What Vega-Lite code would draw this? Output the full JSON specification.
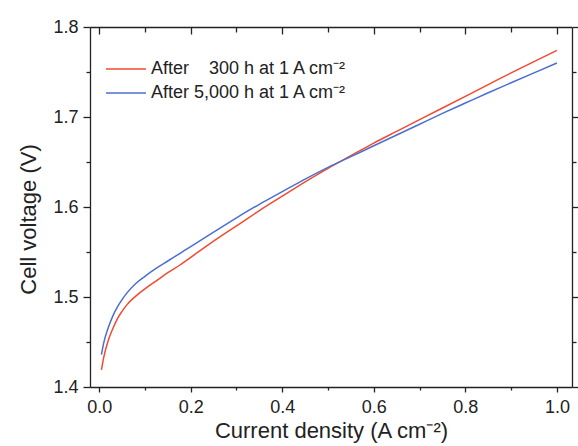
{
  "$schema": "https://vega.github.io/schema/vega-lite/v6.json",
  "width": 482,
  "height": 360,
  "autosize": "none",
  "padding": {"left": 90, "top": 27, "right": 6, "bottom": 59},
  "background": "white",
  "config": {
    "font": "Liberation Sans",
    "view": {"stroke": null},
    "axis": {"grid": false, "domainColor": "#222", "domainWidth": 1.3, "tickColor": "#222", "tickWidth": 1.3, "labelColor": "#222", "titleColor": "#222", "labelFont": "Liberation Sans", "titleFont": "Liberation Sans", "labelFontSize": 18, "titleFontSize": 22, "titleFontWeight": "normal"}
  },
  "datasets": {
    "curves": [
      {"series": "After\u00a0\u00a0\u00a0\u00a0300 h at 1 A cm⁻²", "j": 0.005, "v": 1.419},
      {"series": "After\u00a0\u00a0\u00a0\u00a0300 h at 1 A cm⁻²", "j": 0.01, "v": 1.433},
      {"series": "After\u00a0\u00a0\u00a0\u00a0300 h at 1 A cm⁻²", "j": 0.02, "v": 1.452},
      {"series": "After\u00a0\u00a0\u00a0\u00a0300 h at 1 A cm⁻²", "j": 0.03, "v": 1.465},
      {"series": "After\u00a0\u00a0\u00a0\u00a0300 h at 1 A cm⁻²", "j": 0.04, "v": 1.476},
      {"series": "After\u00a0\u00a0\u00a0\u00a0300 h at 1 A cm⁻²", "j": 0.05, "v": 1.484},
      {"series": "After\u00a0\u00a0\u00a0\u00a0300 h at 1 A cm⁻²", "j": 0.06, "v": 1.491},
      {"series": "After\u00a0\u00a0\u00a0\u00a0300 h at 1 A cm⁻²", "j": 0.08, "v": 1.501},
      {"series": "After\u00a0\u00a0\u00a0\u00a0300 h at 1 A cm⁻²", "j": 0.10, "v": 1.509},
      {"series": "After\u00a0\u00a0\u00a0\u00a0300 h at 1 A cm⁻²", "j": 0.125, "v": 1.518},
      {"series": "After\u00a0\u00a0\u00a0\u00a0300 h at 1 A cm⁻²", "j": 0.15, "v": 1.527},
      {"series": "After\u00a0\u00a0\u00a0\u00a0300 h at 1 A cm⁻²", "j": 0.175, "v": 1.535},
      {"series": "After\u00a0\u00a0\u00a0\u00a0300 h at 1 A cm⁻²", "j": 0.2, "v": 1.544},
      {"series": "After\u00a0\u00a0\u00a0\u00a0300 h at 1 A cm⁻²", "j": 0.25, "v": 1.562},
      {"series": "After\u00a0\u00a0\u00a0\u00a0300 h at 1 A cm⁻²", "j": 0.3, "v": 1.579},
      {"series": "After\u00a0\u00a0\u00a0\u00a0300 h at 1 A cm⁻²", "j": 0.35, "v": 1.596},
      {"series": "After\u00a0\u00a0\u00a0\u00a0300 h at 1 A cm⁻²", "j": 0.4, "v": 1.612},
      {"series": "After\u00a0\u00a0\u00a0\u00a0300 h at 1 A cm⁻²", "j": 0.45, "v": 1.628},
      {"series": "After\u00a0\u00a0\u00a0\u00a0300 h at 1 A cm⁻²", "j": 0.5, "v": 1.643},
      {"series": "After\u00a0\u00a0\u00a0\u00a0300 h at 1 A cm⁻²", "j": 0.55, "v": 1.657},
      {"series": "After\u00a0\u00a0\u00a0\u00a0300 h at 1 A cm⁻²", "j": 0.6, "v": 1.671},
      {"series": "After\u00a0\u00a0\u00a0\u00a0300 h at 1 A cm⁻²", "j": 0.65, "v": 1.684},
      {"series": "After\u00a0\u00a0\u00a0\u00a0300 h at 1 A cm⁻²", "j": 0.7, "v": 1.697},
      {"series": "After\u00a0\u00a0\u00a0\u00a0300 h at 1 A cm⁻²", "j": 0.75, "v": 1.710},
      {"series": "After\u00a0\u00a0\u00a0\u00a0300 h at 1 A cm⁻²", "j": 0.8, "v": 1.723},
      {"series": "After\u00a0\u00a0\u00a0\u00a0300 h at 1 A cm⁻²", "j": 0.85, "v": 1.736},
      {"series": "After\u00a0\u00a0\u00a0\u00a0300 h at 1 A cm⁻²", "j": 0.9, "v": 1.749},
      {"series": "After\u00a0\u00a0\u00a0\u00a0300 h at 1 A cm⁻²", "j": 0.95, "v": 1.7615},
      {"series": "After\u00a0\u00a0\u00a0\u00a0300 h at 1 A cm⁻²", "j": 1.0, "v": 1.774},
      {"series": "After 5,000 h at 1 A cm⁻²", "j": 0.005, "v": 1.436},
      {"series": "After 5,000 h at 1 A cm⁻²", "j": 0.01, "v": 1.449},
      {"series": "After 5,000 h at 1 A cm⁻²", "j": 0.02, "v": 1.466},
      {"series": "After 5,000 h at 1 A cm⁻²", "j": 0.03, "v": 1.479},
      {"series": "After 5,000 h at 1 A cm⁻²", "j": 0.04, "v": 1.489},
      {"series": "After 5,000 h at 1 A cm⁻²", "j": 0.05, "v": 1.497},
      {"series": "After 5,000 h at 1 A cm⁻²", "j": 0.06, "v": 1.504},
      {"series": "After 5,000 h at 1 A cm⁻²", "j": 0.08, "v": 1.515},
      {"series": "After 5,000 h at 1 A cm⁻²", "j": 0.10, "v": 1.523},
      {"series": "After 5,000 h at 1 A cm⁻²", "j": 0.125, "v": 1.532},
      {"series": "After 5,000 h at 1 A cm⁻²", "j": 0.15, "v": 1.540},
      {"series": "After 5,000 h at 1 A cm⁻²", "j": 0.175, "v": 1.548},
      {"series": "After 5,000 h at 1 A cm⁻²", "j": 0.2, "v": 1.556},
      {"series": "After 5,000 h at 1 A cm⁻²", "j": 0.25, "v": 1.572},
      {"series": "After 5,000 h at 1 A cm⁻²", "j": 0.3, "v": 1.588},
      {"series": "After 5,000 h at 1 A cm⁻²", "j": 0.35, "v": 1.603},
      {"series": "After 5,000 h at 1 A cm⁻²", "j": 0.4, "v": 1.617},
      {"series": "After 5,000 h at 1 A cm⁻²", "j": 0.45, "v": 1.631},
      {"series": "After 5,000 h at 1 A cm⁻²", "j": 0.5, "v": 1.644},
      {"series": "After 5,000 h at 1 A cm⁻²", "j": 0.55, "v": 1.656},
      {"series": "After 5,000 h at 1 A cm⁻²", "j": 0.6, "v": 1.668},
      {"series": "After 5,000 h at 1 A cm⁻²", "j": 0.65, "v": 1.680},
      {"series": "After 5,000 h at 1 A cm⁻²", "j": 0.7, "v": 1.692},
      {"series": "After 5,000 h at 1 A cm⁻²", "j": 0.75, "v": 1.704},
      {"series": "After 5,000 h at 1 A cm⁻²", "j": 0.8, "v": 1.7155},
      {"series": "After 5,000 h at 1 A cm⁻²", "j": 0.85, "v": 1.727},
      {"series": "After 5,000 h at 1 A cm⁻²", "j": 0.9, "v": 1.738},
      {"series": "After 5,000 h at 1 A cm⁻²", "j": 0.95, "v": 1.749},
      {"series": "After 5,000 h at 1 A cm⁻²", "j": 1.0, "v": 1.760}
    ]
  },
  "data": {"name": "curves"},
  "layer": [
    {
      "mark": {"type": "line", "strokeWidth": 1.5, "clip": true, "interpolate": "monotone"},
      "encoding": {
        "x": {
          "field": "j", "type": "quantitative",
          "scale": {"domain": [-0.02, 1.033], "nice": false, "zero": false},
          "axis": {
            "orient": "bottom",
            "title": "Current density (A cm⁻²)",
            "values": [0, 0.1, 0.2, 0.3, 0.4, 0.5, 0.6, 0.7, 0.8, 0.9, 1.0],
            "labelExpr": "round(datum.value*10) % 2 === 0 ? format(datum.value, '.1f') : ''",
            "tickSize": {"condition": {"test": "round(datum.value*10) % 2 === 0", "value": 5}, "value": 3},
            "labelPadding": 6,
            "titlePadding": 4,
            "labelFlush": false,
            "labelOverlap": false
          }
        },
        "y": {
          "field": "v", "type": "quantitative",
          "scale": {"domain": [1.4, 1.8], "nice": false, "zero": false},
          "axis": {
            "orient": "left",
            "title": "Cell voltage (V)",
            "values": [1.4, 1.45, 1.5, 1.55, 1.6, 1.65, 1.7, 1.75, 1.8],
            "labelExpr": "round(datum.value*20) % 2 === 0 ? format(datum.value, '.1f') : ''",
            "tickSize": {"condition": {"test": "round(datum.value*20) % 2 === 0", "value": 7}, "value": 4},
            "labelPadding": 5,
            "titlePadding": 12,
            "titleY": 192,
            "labelFlush": false,
            "labelOverlap": false
          }
        },
        "color": {
          "field": "series", "type": "nominal",
          "scale": {"domain": ["After\u00a0\u00a0\u00a0\u00a0300 h at 1 A cm⁻²", "After 5,000 h at 1 A cm⁻²"], "range": ["#f24a30", "#4a6fd2"]},
          "legend": {
            "title": null,
            "orient": "none",
            "legendX": 15,
            "legendY": 30,
            "padding": 0,
            "symbolType": "stroke",
            "symbolSize": 1600,
            "symbolStrokeWidth": 1.5,
            "clipHeight": 24,
            "labelFontSize": 18,
            "labelFont": "Liberation Sans",
            "labelColor": "#222",
            "labelOffset": 4,
            "labelLimit": 400,
            "rowPadding": 0
          }
        }
      }
    },
    {
      "mark": {"type": "line", "strokeOpacity": 0},
      "encoding": {
        "detail": {"field": "series", "type": "nominal"},
        "x": {
          "field": "j", "type": "quantitative",
          "axis": {
            "orient": "top",
            "title": null,
            "labels": false,
            "values": [0, 0.1, 0.2, 0.3, 0.4, 0.5, 0.6, 0.7, 0.8, 0.9, 1.0],
            "tickSize": {"condition": {"test": "round(datum.value*10) % 2 === 0", "value": -7}, "value": -5}
          }
        },
        "y": {
          "field": "v", "type": "quantitative",
          "axis": {
            "orient": "right",
            "title": null,
            "labels": false,
            "values": [1.4, 1.45, 1.5, 1.55, 1.6, 1.65, 1.7, 1.75, 1.8],
            "tickSize": {"condition": {"test": "round(datum.value*20) % 2 === 0", "value": 7}, "value": 4}
          }
        }
      }
    }
  ],
  "resolve": {"axis": {"x": "independent", "y": "independent"}}
}
